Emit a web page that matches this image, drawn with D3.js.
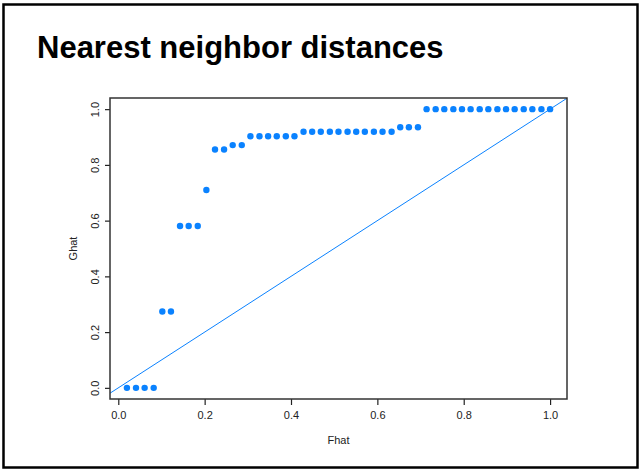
<!DOCTYPE html>
<html>
<head>
<meta charset="utf-8">
<script src="https://cdn.jsdelivr.net/npm/d3@7"></script>
<style>
  body { margin: 0; background: #fff; }
  svg { display: block; font-family: "Liberation Sans", Arial, sans-serif; }
</style>
</head>
<body>
<svg id="chart" width="642" height="471"></svg>
<script>
const title = "Nearest neighbor distances";
const xTitle = "Fhat";
const yTitle = "Ghat";

const fhat = [
    0.020, 0.041, 0.061, 0.082, 0.102, 0.122, 0.143, 0.163, 0.184, 0.204,
    0.224, 0.245, 0.265, 0.286, 0.306, 0.327, 0.347, 0.367, 0.388, 0.408,
    0.429, 0.449, 0.469, 0.490, 0.510, 0.531, 0.551, 0.571, 0.592, 0.612,
    0.633, 0.653, 0.673, 0.694, 0.714, 0.735, 0.755, 0.776, 0.796, 0.816,
    0.837, 0.857, 0.878, 0.898, 0.918, 0.939, 0.959, 0.980, 1.000
];
const ghat = [
    0, 0, 0, 0, 0.274, 0.274, 0.581, 0.581, 0.581, 0.710,
    0.855, 0.855, 0.871, 0.871, 0.903, 0.903, 0.903, 0.903, 0.903, 0.903,
    0.919, 0.919, 0.919, 0.919, 0.919, 0.919, 0.919, 0.919, 0.919, 0.919,
    0.919, 0.935, 0.935, 0.935, 1, 1, 1, 1, 1, 1,
    1, 1, 1, 1, 1, 1, 1, 1, 1
];
const xTicks = [0, 0.2, 0.4, 0.6, 0.8, 1.0];
const yTicks = [0, 0.2, 0.4, 0.6, 0.8, 1.0];

const svg = d3.select("#chart");
const plot = { left: 110, right: 567, top: 98, bottom: 399 };
const blue = "#0a82ff";

// slide frame
svg.append("rect")
    .attr("x", 3.5).attr("y", 4.5)
    .attr("width", 634).attr("height", 463)
    .attr("fill", "#fff")
    .attr("stroke", "#000")
    .attr("stroke-width", 2.5);

svg.append("text")
    .attr("x", 37).attr("y", 57.5)
    .attr("font-size", 31)
    .attr("font-weight", "bold")
    .attr("fill", "#000")
    .text(title);

// R style: 4% padding on each side of the data range
const xr = d3.extent(fhat);
const xpad = (xr[1] - xr[0]) * 0.04;
const x = d3.scaleLinear()
    .domain([xr[0] - xpad, xr[1] + xpad])
    .range([plot.left, plot.right]);

const yr = d3.extent(ghat);
const ypad = (yr[1] - yr[0]) * 0.04;
const y = d3.scaleLinear()
    .domain([yr[0] - ypad, yr[1] + ypad])
    .range([plot.bottom, plot.top]);

svg.append("clipPath").attr("id", "clip")
    .append("rect")
    .attr("x", plot.left).attr("y", plot.top)
    .attr("width", plot.right - plot.left)
    .attr("height", plot.bottom - plot.top);

// y = x reference line
svg.append("line")
    .attr("clip-path", "url(#clip)")
    .attr("x1", x(-0.1)).attr("y1", y(-0.1))
    .attr("x2", x(1.1)).attr("y2", y(1.1))
    .attr("stroke", blue)
    .attr("stroke-width", 1);

svg.append("g")
    .selectAll("circle")
    .data(fhat)
    .enter()
    .append("circle")
    .attr("cx", d => x(d))
    .attr("cy", (d, i) => y(ghat[i]))
    .attr("r", 3.2)
    .attr("fill", blue);

const fmt = d3.format(".1f");

const xAxis = svg.append("g")
    .attr("transform", "translate(0," + plot.bottom + ")")
    .call(d3.axisBottom(x).tickValues(xTicks).tickFormat(fmt).tickSize(6).tickPadding(6));

const yAxis = svg.append("g")
    .attr("transform", "translate(" + plot.left + ",0)")
    .call(d3.axisLeft(y).tickValues(yTicks).tickFormat(fmt).tickSize(5).tickPadding(0));

[xAxis, yAxis].forEach(g => {
    g.select(".domain").remove();
    g.selectAll("line").attr("stroke", "#222").attr("stroke-width", 1.2);
    g.selectAll("text")
        .attr("font-family", "Liberation Sans, Arial, sans-serif")
        .attr("font-size", 11)
        .attr("fill", "#222");
});

yAxis.selectAll("text")
    .attr("text-anchor", "middle")
    .attr("dy", null)
    .attr("x", null)
    .attr("transform", "translate(-15,0) rotate(-90)")
    .attr("y", 0)
    .attr("dominant-baseline", "central");

// plot box
svg.append("rect")
    .attr("x", plot.left).attr("y", plot.top)
    .attr("width", plot.right - plot.left)
    .attr("height", plot.bottom - plot.top)
    .attr("fill", "none")
    .attr("stroke", "#333")
    .attr("stroke-width", 1.5);

svg.append("text")
    .attr("x", (plot.left + plot.right) / 2)
    .attr("y", 444)
    .attr("text-anchor", "middle")
    .attr("font-size", 11)
    .attr("fill", "#222")
    .text(xTitle);

svg.append("text")
    .attr("transform", "translate(77," + (plot.top + plot.bottom) / 2 + ") rotate(-90)")
    .attr("text-anchor", "middle")
    .attr("font-size", 11)
    .attr("fill", "#222")
    .text(yTitle);
</script>
</body>
</html>
